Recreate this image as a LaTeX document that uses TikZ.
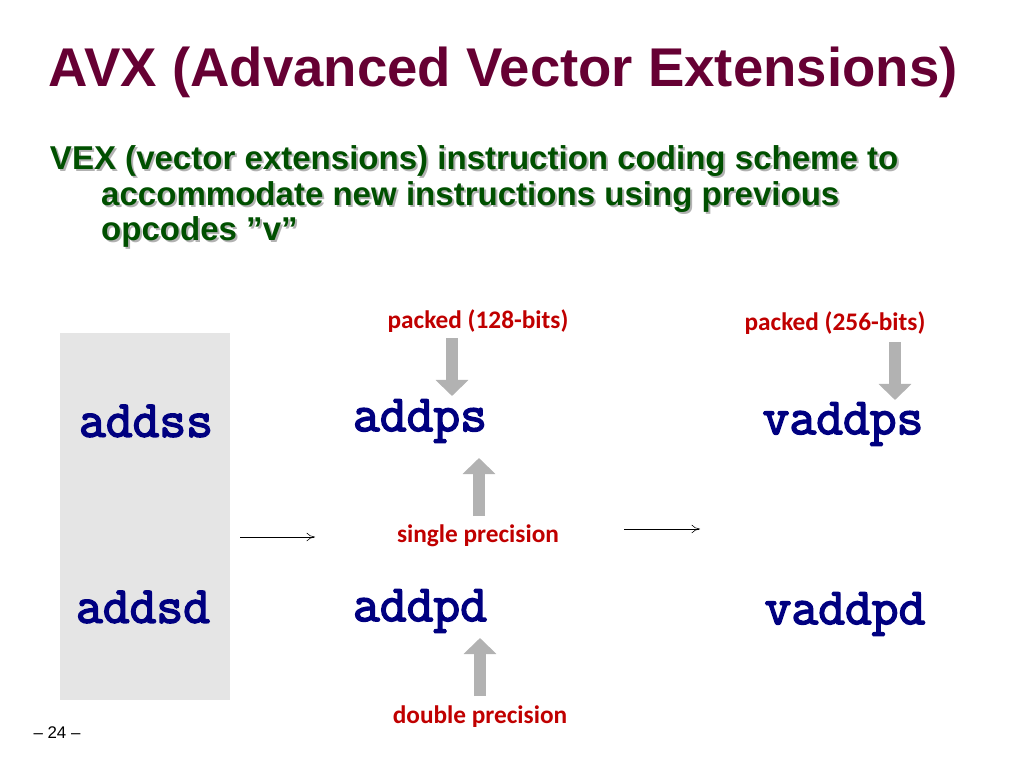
\documentclass[tikz,border=0pt]{standalone}
\usepackage{fontspec}
\setmainfont{Liberation Sans}
\newfontfamily\codefont[AutoFakeBold=3]{Latin Modern Mono}
\newfontfamily\labfont{Carlito}
\usetikzlibrary{arrows.meta, positioning}
\definecolor{titlered}{RGB}{102,0,51}
\definecolor{subgreen}{RGB}{0,80,0}
\definecolor{codeblue}{RGB}{0,0,128}
\definecolor{labred}{RGB}{192,0,0}
\newcommand{\subtext}{VEX (vector extensions) instruction coding scheme to\\
     \hspace{1.55em}accommodate new instructions using previous\\
     \hspace{1.55em}opcodes \symbol{34}v\symbol{34}}
\tikzset{
  x=0.025cm, y=-0.025cm,
  code/.style={font=\codefont\bfseries\fontsize{37}{37}\selectfont, text=codeblue, inner sep=0pt},
  lab/.style={font=\labfont\bfseries\fontsize{18}{18}\selectfont, text=labred, inner sep=0pt},
  subt/.style={anchor=north west, align=left, font=\bfseries\fontsize{23.5}{25}\selectfont},
  blockarrow/.style={draw=gray!60, line width=0.3cm, -{Triangle[width=0.8cm,length=0.4cm]}},
  thinarrow/.style={-{To[length=6pt,width=6pt]}, thin}
}
\begin{document}
\begin{tikzpicture}
  \useasboundingbox (0,0) rectangle (1024,768);
  % title and subtitle
  \node[anchor=west, text=titlered, font=\bfseries\fontsize{38.8}{38.8}\selectfont] (title) at (44,72) {AVX (Advanced Vector Extensions)};
  \node[subt, text=gray!60] (shadow) at (47,143) {\subtext};
  \node[subt, text=subgreen] (sub) at (45,141) {\subtext};
  % left column
  \fill[gray!20] (60,333) rectangle (230,700);
  \node[code] (addss) at (146,421) {addss};
  \node[code] (addsd) at (143,607) {addsd};
  % middle column
  \node[code] (addps) at (420,421) {addps};
  \node[code] (addpd) at (420,611) {addpd};
  \node[lab] (p128) at (478,321) {packed (128-bits)};
  \node[lab] (single) at (478,536) {single precision};
  \node[lab] (double) at (480,717) {double precision};
  % right column
  \node[code] (vaddps) at (843,424) {vaddps};
  \node[code] (vaddpd) at (845,614) {vaddpd};
  \node[lab] (p256) at (835,323) {packed (256-bits)};
  % arrows
  \coordinate (a1) at (240,537); \coordinate (a2) at (315,537);
  \coordinate (b1) at (624,529); \coordinate (b2) at (700,529);
  \draw[thinarrow] (a1) -- (a2);
  \draw[thinarrow] (b1) -- (b2);
  \draw[blockarrow] (452,338) -- (452,396);
  \draw[blockarrow] (479,516) -- (479,458);
  \draw[blockarrow] (895,342) -- (895,400);
  \draw[blockarrow] (480,696) -- (480,638);
  \node[font=\fontsize{12}{12}\selectfont] (page) at (57,733) {-- 24 --};
\end{tikzpicture}
\end{document}
